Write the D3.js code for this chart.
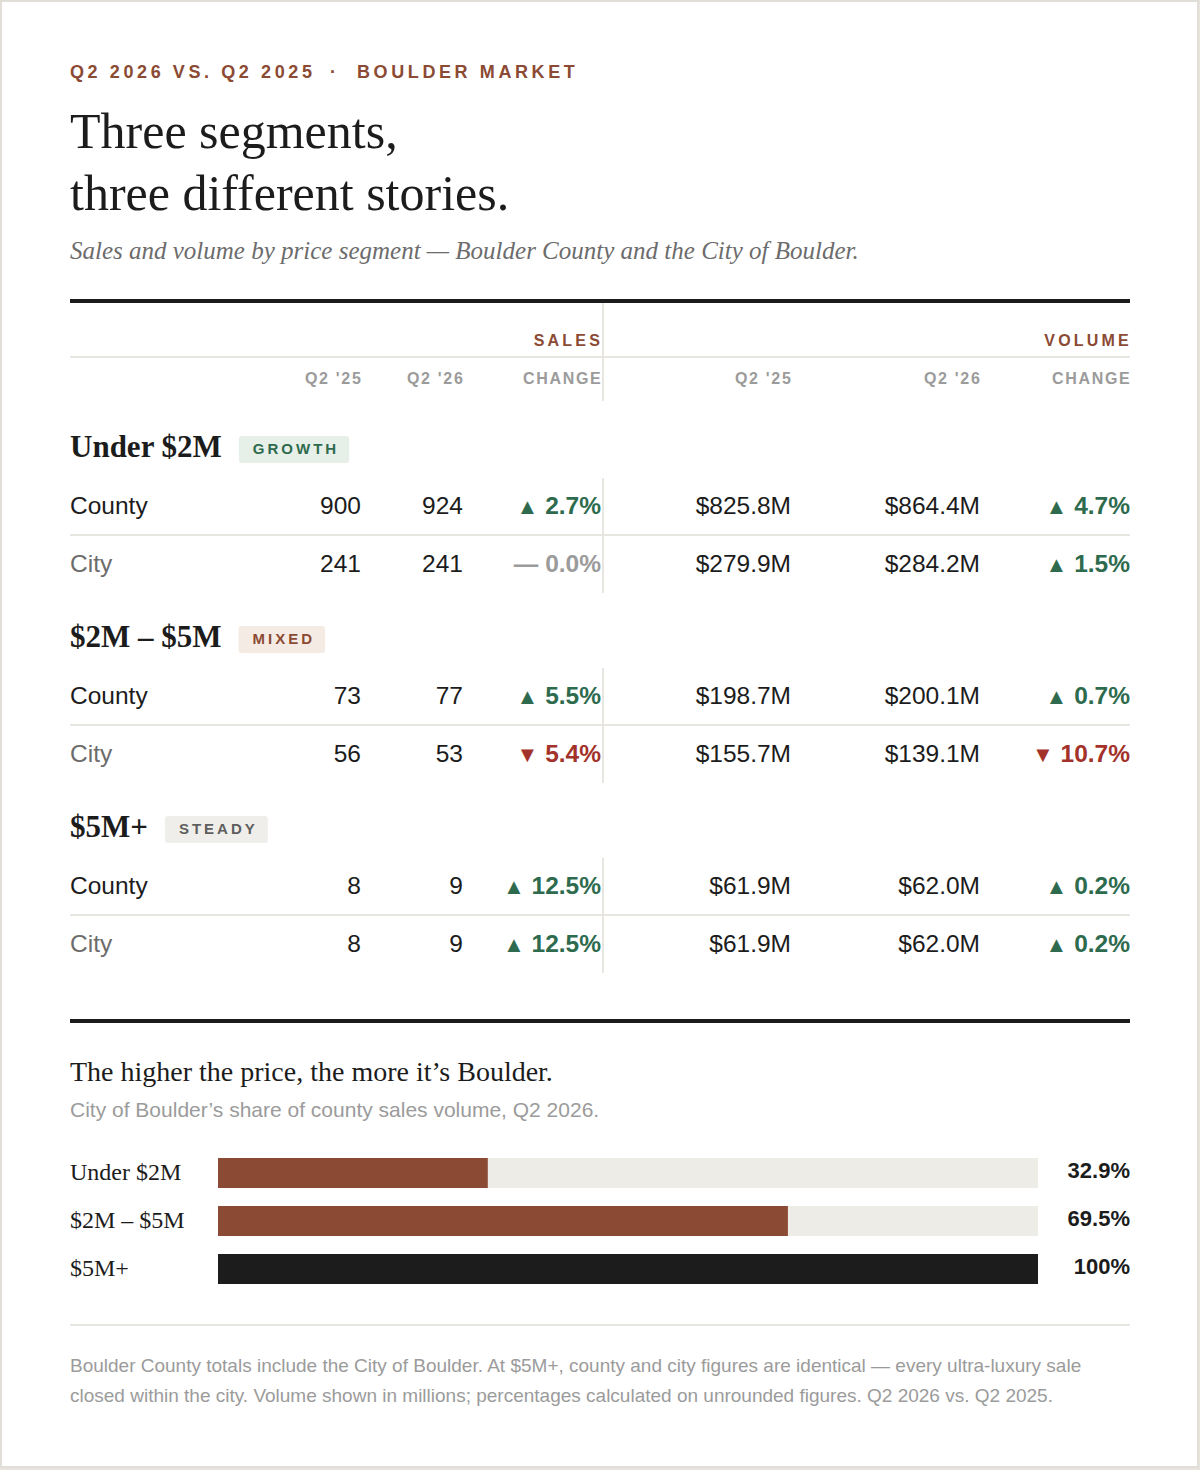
<!DOCTYPE html>
<html>
<head>
<meta charset="utf-8">
<script src="https://cdn.jsdelivr.net/npm/d3@7"></script>
<style>
  html, body { margin: 0; padding: 0; background: #e6e4dd; }
  svg { display: block; }
  .sans { font-family: "Liberation Sans", Arial, sans-serif; }
  .serif { font-family: "Liberation Serif", "Times New Roman", serif; }
</style>
</head>
<body>
<script>
'use strict';

var eyebrowLeft  = 'Q2 2026 VS. Q2 2025';
var eyebrowRight = 'BOULDER MARKET';
var titleLines   = ['Three segments,', 'three different stories.'];
var subtitle     = 'Sales and volume by price segment \u2014 Boulder County and the City of Boulder.';

var groupHeads  = ['SALES', 'VOLUME'];
var columnHeads = ['Q2 \'25', 'Q2 \'26', 'CHANGE', 'Q2 \'25', 'Q2 \'26', 'CHANGE'];

var segments = ['Under $2M', '$2M \u2013 $5M', '$5M+'];
var badges   = ['GROWTH', 'MIXED', 'STEADY'];
var areas    = ['County', 'City'];

// [county, city] per segment
var salesQ225    = [[900, 241], [73, 56], [8, 8]];
var salesQ226    = [[924, 241], [77, 53], [9, 9]];
var salesChange  = [[2.7, 0.0], [5.5, -5.4], [12.5, 12.5]];
var volumeQ225   = [[825.8, 279.9], [198.7, 155.7], [61.9, 61.9]];
var volumeQ226   = [[864.4, 284.2], [200.1, 139.1], [62.0, 62.0]];
var volumeChange = [[4.7, 1.5], [0.7, -10.7], [0.2, 0.2]];

var shareTitle    = 'The higher the price, the more it\u2019s Boulder.';
var shareSubtitle = 'City of Boulder\u2019s share of county sales volume, Q2 2026.';
var cityShare     = [32.9, 69.5, 100];

var footnote = [
  'Boulder County totals include the City of Boulder. At $5M+, county and city figures are identical \u2014 every ultra-luxury sale',
  'closed within the city. Volume shown in millions; percentages calculated on unrounded figures. Q2 2026 vs. Q2 2025.'
];

var width  = 1200;
var height = 1470;
var left   = 70;
var right  = 1130;

var ink     = '#1c1c1c';
var brown   = '#8b4a33';
var green   = '#2e6b4e';
var red     = '#a3332a';
var grey    = '#9b9b9b';
var soft    = '#6c6c6c';
var hair    = '#e8e6e1';

var badgeFill = { GROWTH: '#e7efe9', MIXED: '#f4ece4', STEADY: '#efeeea' };
var badgeInk  = { GROWTH: green, MIXED: brown, STEADY: '#5e5e5e' };

var svg = d3.select('body').append('svg')
    .attr('width', width)
    .attr('height', height);

svg.append('rect')
  .attr('x', 1).attr('y', 1)
  .attr('width', width - 3).attr('height', height - 4)
  .attr('fill', '#fff')
  .attr('stroke', '#e0ded6')
  .attr('stroke-width', 2);

// ---- header
var eyebrow = svg.append('g').attr('class', 'sans')
  .attr('font-size', 18).attr('font-weight', 700)
  .attr('letter-spacing', 3.6).attr('fill', brown);
eyebrow.append('text').attr('x', left).attr('y', 78).text(eyebrowLeft);
eyebrow.append('text').attr('x', 330).attr('y', 78).text('\u00b7');
eyebrow.append('text').attr('x', 357).attr('y', 78).text(eyebrowRight);

svg.append('g').attr('class', 'serif')
  .attr('font-size', 50).attr('fill', ink)
  .selectAll('text')
  .data(titleLines)
  .join('text')
    .attr('x', left)
    .attr('y', function(d, i) { return 148 + i * 62; })
    .text(function(d) { return d; });

svg.append('text').attr('class', 'serif')
  .attr('x', left).attr('y', 259)
  .attr('font-size', 25).attr('font-style', 'italic').attr('fill', soft)
  .text(subtitle);

// ---- table
var col = d3.scaleOrdinal()
  .domain(d3.range(6))
  .range([361, 463, 601, 791, 980, 1130]);
var divider = 603;

svg.append('rect').attr('x', left).attr('y', 299).attr('width', right - left).attr('height', 4).attr('fill', ink);
svg.append('rect').attr('x', left).attr('y', 356).attr('width', right - left).attr('height', 2).attr('fill', hair);
svg.append('rect').attr('x', divider - 1).attr('y', 303).attr('width', 2).attr('height', 98).attr('fill', hair);

svg.append('g').attr('class', 'sans')
  .attr('font-size', 16).attr('font-weight', 700)
  .attr('letter-spacing', 3.2).attr('fill', brown).attr('text-anchor', 'end')
  .selectAll('text')
  .data(groupHeads)
  .join('text')
    .attr('x', function(d, i) { return col(i * 3 + 2) + 2; })
    .attr('y', 346)
    .text(function(d) { return d; });

svg.append('g').attr('class', 'sans')
  .attr('font-size', 16).attr('font-weight', 700)
  .attr('letter-spacing', 1.7).attr('fill', grey).attr('text-anchor', 'end')
  .selectAll('text')
  .data(columnHeads)
  .join('text')
    .attr('x', function(d, i) { return col(i) + 1.5; })
    .attr('y', 384)
    .text(function(d) { return d; });

var segY = d3.scaleLinear().domain([0, 1]).range([457, 647]);
var rowY = d3.scaleLinear().domain([0, 1]).range([57, 115]);

var fmtCount  = d3.format('d');
var fmtVolume = function(v) { return '$' + d3.format('.1f')(v) + 'M'; };
var fmtPct    = d3.format('.1f');

function changeCell(sel, v) {
  var colour = v > 0 ? green : (v < 0 ? red : grey);
  sel.attr('fill', colour).attr('font-weight', 700);
  if (v === 0) {
    sel.append('tspan').text('\u2014 ');
  } else {
    sel.append('tspan').attr('font-size', 22).text(v > 0 ? '\u25b2' : '\u25bc');
    sel.append('tspan').text(' ');
  }
  sel.append('tspan').text(fmtPct(Math.abs(v)) + '%');
}

segments.forEach(function(seg, s) {
  var g = svg.append('g').attr('transform', 'translate(0,' + segY(s) + ')');

  var head = g.append('text').attr('class', 'serif')
    .attr('x', left).attr('y', 0)
    .attr('font-size', 31).attr('font-weight', 700).attr('fill', ink)
    .text(seg);
  var hx = left + head.node().getComputedTextLength() + 17;

  var badge = g.append('g');
  var bt = badge.append('text').attr('class', 'sans')
    .attr('x', hx + 14).attr('y', -3)
    .attr('font-size', 15).attr('font-weight', 700)
    .attr('letter-spacing', 3).attr('fill', badgeInk[badges[s]])
    .text(badges[s]);
  badge.insert('rect', 'text')
    .attr('x', hx).attr('y', -21)
    .attr('width', bt.node().getComputedTextLength() + 24)
    .attr('height', 27).attr('rx', 3)
    .attr('fill', badgeFill[badges[s]]);

  g.append('rect').attr('x', divider - 1).attr('y', 21).attr('width', 2).attr('height', 115).attr('fill', hair);
  g.append('rect').attr('x', left).attr('y', 77).attr('width', right - left).attr('height', 2).attr('fill', hair);

  areas.forEach(function(area, a) {
    var y = rowY(a);
    var row = g.append('g').attr('class', 'sans').attr('font-size', 24.5);
    row.append('text').attr('x', left).attr('y', y)
      .attr('fill', a === 0 ? ink : soft).text(area);
    var cells = [
      fmtCount(salesQ225[s][a]),
      fmtCount(salesQ226[s][a]),
      null,
      fmtVolume(volumeQ225[s][a]),
      fmtVolume(volumeQ226[s][a]),
      null
    ];
    cells.forEach(function(c, i) {
      var t = row.append('text').attr('x', col(i)).attr('y', y).attr('text-anchor', 'end');
      if (c !== null) t.attr('fill', ink).text(c);
      else changeCell(t, i === 2 ? salesChange[s][a] : volumeChange[s][a]);
    });
  });
});

// ---- share bars
svg.append('rect').attr('x', left).attr('y', 1019).attr('width', right - left).attr('height', 4).attr('fill', ink);

svg.append('text').attr('class', 'serif')
  .attr('x', left).attr('y', 1081)
  .attr('font-size', 28).attr('fill', ink)
  .text(shareTitle);
svg.append('text').attr('class', 'sans')
  .attr('x', left).attr('y', 1117)
  .attr('font-size', 21).attr('fill', grey)
  .text(shareSubtitle);

var x = d3.scaleLinear().domain([0, 100]).range([218, 1038]);
var y = d3.scaleBand().domain(segments).range([1158, 1284]).paddingInner(0.375);

var bars = svg.append('g').selectAll('g')
  .data(segments)
  .join('g');

bars.append('rect')
  .attr('x', x(0)).attr('y', function(d) { return y(d); })
  .attr('width', x(100) - x(0)).attr('height', y.bandwidth())
  .attr('fill', '#eeece7');
bars.append('rect')
  .attr('x', x(0)).attr('y', function(d) { return y(d); })
  .attr('width', function(d, i) { return x(cityShare[i]) - x(0); })
  .attr('height', y.bandwidth())
  .attr('fill', function(d, i) { return cityShare[i] >= 100 ? ink : brown; });
bars.append('text').attr('class', 'serif')
  .attr('x', left).attr('y', function(d) { return y(d) + y.bandwidth() / 2 + 7; })
  .attr('font-size', 24).attr('fill', ink)
  .text(function(d) { return d; });
bars.append('text').attr('class', 'sans')
  .attr('x', right).attr('y', function(d) { return y(d) + y.bandwidth() / 2 + 5; })
  .attr('text-anchor', 'end')
  .attr('font-size', 22).attr('font-weight', 700).attr('fill', ink)
  .text(function(d, i) { return d3.format('.3r')(cityShare[i]) + '%'; });

// ---- footnote
svg.append('rect').attr('x', left).attr('y', 1324).attr('width', right - left).attr('height', 2).attr('fill', hair);

svg.append('g').attr('class', 'sans')
  .attr('font-size', 19).attr('fill', grey)
  .selectAll('text')
  .data(footnote)
  .join('text')
    .attr('x', left)
    .attr('y', function(d, i) { return 1372 + i * 30; })
    .text(function(d) { return d; });
</script>
</body>
</html>
